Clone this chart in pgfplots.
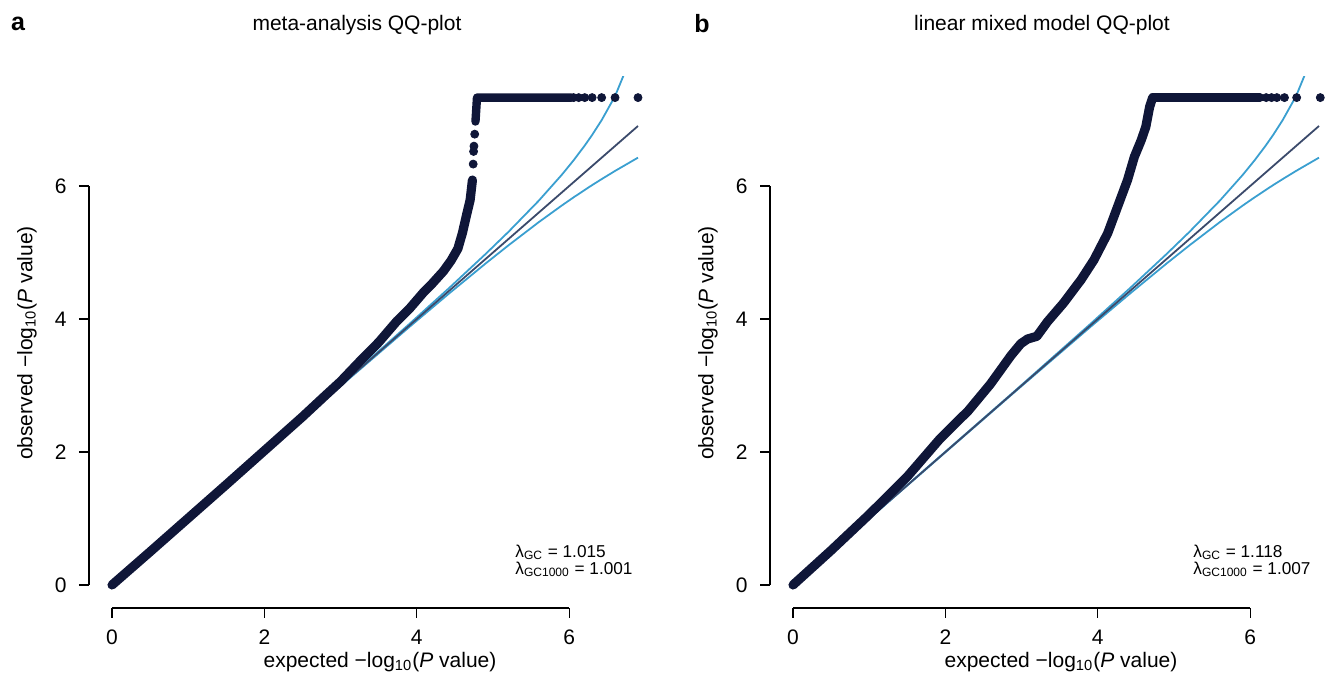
\documentclass[border=0pt]{standalone}
\usepackage{pgfplots}
\pgfplotsset{compat=1.18}
\usepackage{fontspec}
\setmainfont{Liberation Sans}
\definecolor{navy}{HTML}{0F1638}
\definecolor{slate}{HTML}{3B4A6B}
\definecolor{sky}{HTML}{3A9FD0}
\pgfplotsset{qqaxis/.style={
  scale only axis, width=286pt, height=265.5pt,
  xmin=-0.302, xmax=7.205, ymin=-0.346, ymax=7.64,
  axis x line*=bottom, axis y line*=left,
  axis line style={draw=none},
  xtick={0,2,4,6}, ytick={0,2,4,6},
  xticklabels={0,2,4,6}, yticklabels={0,2,4,6},
  tick align=outside, major tick length=5pt,
  tick style={black, line width=0.6pt},
  ticklabel style={font=\fontsize{10.5}{12}\selectfont, inner sep=0pt},
  xticklabel style={anchor=north, yshift=-5.6pt},
  yticklabel style={anchor=east, xshift=-6pt},
  clip mode=individual,
}}
\begin{document}
\begin{tikzpicture}
% ---------------- panel a ----------------
\begin{axis}[qqaxis, at={(44.5pt,37.5pt)}, anchor=south west]
\addplot[sky, line width=0.9pt] coordinates {
(0,0) (2.903,2.910) (3.903,3.926) (4.426,4.468) (4.903,4.978) (5.204,5.312) (5.602,5.781) (5.903,6.169) (6.058,6.387) (6.204,6.609) (6.301,6.768) (6.426,6.991) (6.602,7.352) (6.903,8.193)};
\addplot[sky, line width=0.9pt] coordinates {
(0,0) (2.903,2.896) (3.903,3.881) (4.426,4.386) (4.903,4.835) (5.204,5.109) (5.602,5.458) (5.903,5.707) (6.058,5.830) (6.204,5.941) (6.301,6.014) (6.426,6.104) (6.602,6.227) (6.903,6.427)};
\addplot[slate, line width=0.9pt] coordinates {(0,0) (6.903,6.903)};
\addplot[navy, line width=4.6pt, line cap=round, line join=round] coordinates {
(0,0) (0.5,0.5) (1,1.005) (1.5,1.51) (2,2.02) (2.5,2.53) (2.8,2.85) (3,3.06) (3.25,3.36) (3.5,3.65) (3.74,3.97) (3.9,4.15) (4.08,4.39) (4.2,4.53) (4.35,4.72) (4.45,4.88) (4.54,5.06) (4.6,5.3) (4.65,5.55) (4.70,5.79) (4.73,6.09)};
\addplot[navy, line width=4.2pt, line cap=round, line join=round] coordinates {
(4.77,6.97) (4.79,7.33) (6.03,7.33)};
\addplot[only marks, mark=*, mark size=2pt, navy] coordinates {
(4.74,6.33) (4.745,6.52) (4.75,6.60) (4.76,6.78) (6.058,7.33) (6.125,7.33) (6.204,7.33) (6.301,7.33) (6.426,7.33) (6.602,7.33) (6.903,7.33)};
\draw[line width=0.6pt] (axis cs:0,-0.346) -- (axis cs:6,-0.346);
\draw[line width=0.6pt] (axis cs:-0.302,0) -- (axis cs:-0.302,6);
\end{axis}
% ---------------- panel b ----------------
\begin{axis}[qqaxis, at={(385pt,37.5pt)}, anchor=south west]
\addplot[sky, line width=0.9pt] coordinates {
(0,0) (2.903,2.910) (3.903,3.926) (4.426,4.468) (4.903,4.978) (5.204,5.312) (5.602,5.781) (5.903,6.169) (6.058,6.387) (6.204,6.609) (6.301,6.768) (6.426,6.991) (6.602,7.352) (6.903,8.193)};
\addplot[sky, line width=0.9pt] coordinates {
(0,0) (2.903,2.896) (3.903,3.881) (4.426,4.386) (4.903,4.835) (5.204,5.109) (5.602,5.458) (5.903,5.707) (6.058,5.830) (6.204,5.941) (6.301,6.014) (6.426,6.104) (6.602,6.227) (6.903,6.427)};
\addplot[slate, line width=0.9pt] coordinates {(0,0) (6.903,6.903)};
\addplot[navy, line width=4.6pt, line cap=round, line join=round] coordinates {
(0,0) (0.5,0.52) (1,1.06) (1.5,1.63) (1.93,2.2) (2.3,2.62) (2.59,3.02) (2.86,3.45) (2.99,3.63) (3.08,3.70) (3.2,3.74) (3.34,3.96) (3.55,4.24) (3.78,4.59) (3.95,4.89) (4.13,5.29) (4.26,5.69) (4.39,6.09) (4.48,6.44) (4.57,6.69) (4.63,6.89) (4.68,7.19) (4.72,7.33)};
\addplot[navy, line width=4.2pt, line cap=round, line join=round] coordinates {
(4.72,7.33) (6.13,7.33)};
\addplot[only marks, mark=*, mark size=2pt, navy] coordinates {
(6.21,7.33) (6.28,7.33) (6.35,7.33) (6.45,7.33) (6.61,7.33) (6.92,7.33)};
\draw[line width=0.6pt] (axis cs:0,-0.346) -- (axis cs:6,-0.346);
\draw[line width=0.6pt] (axis cs:-0.302,0) -- (axis cs:-0.302,6);
\end{axis}
% ---------------- text ----------------
\begin{scope}[every node/.style={inner sep=0pt, font=\fontsize{10.5}{12}\selectfont}]
\node at (178.5pt,329pt) {meta-analysis QQ-plot};
\node at (521pt,329pt) {linear mixed model QQ-plot};
\node[font=\fontsize{12.5}{14}\selectfont\bfseries] at (9pt,329.5pt) {a};
\node[font=\fontsize{12.5}{14}\selectfont\bfseries] at (351pt,329.5pt) {b};
\node at (190pt,10.5pt) {expected −log\textsubscript{10}(\textit{P} value)};
\node at (530.5pt,10.5pt) {expected −log\textsubscript{10}(\textit{P} value)};
\node[rotate=90] at (13.5pt,170pt) {observed −log\textsubscript{10}(\textit{P} value)};
\node[rotate=90] at (354pt,170pt) {observed −log\textsubscript{10}(\textit{P} value)};
\node[anchor=west, font=\fontsize{8.6}{10}\selectfont] at (257.5pt,65.5pt) {λ\textsubscript{GC} = 1.015};
\node[anchor=west, font=\fontsize{8.6}{10}\selectfont] at (257.5pt,57pt) {λ\textsubscript{GC1000} = 1.001};
\node[anchor=west, font=\fontsize{8.6}{10}\selectfont] at (596.5pt,65.5pt) {λ\textsubscript{GC} = 1.118};
\node[anchor=west, font=\fontsize{8.6}{10}\selectfont] at (596.5pt,57pt) {λ\textsubscript{GC1000} = 1.007};
\end{scope}
\pgfresetboundingbox
\path[use as bounding box] (0pt,0pt) rectangle (664pt,341.5pt);
\end{tikzpicture}
\end{document}
